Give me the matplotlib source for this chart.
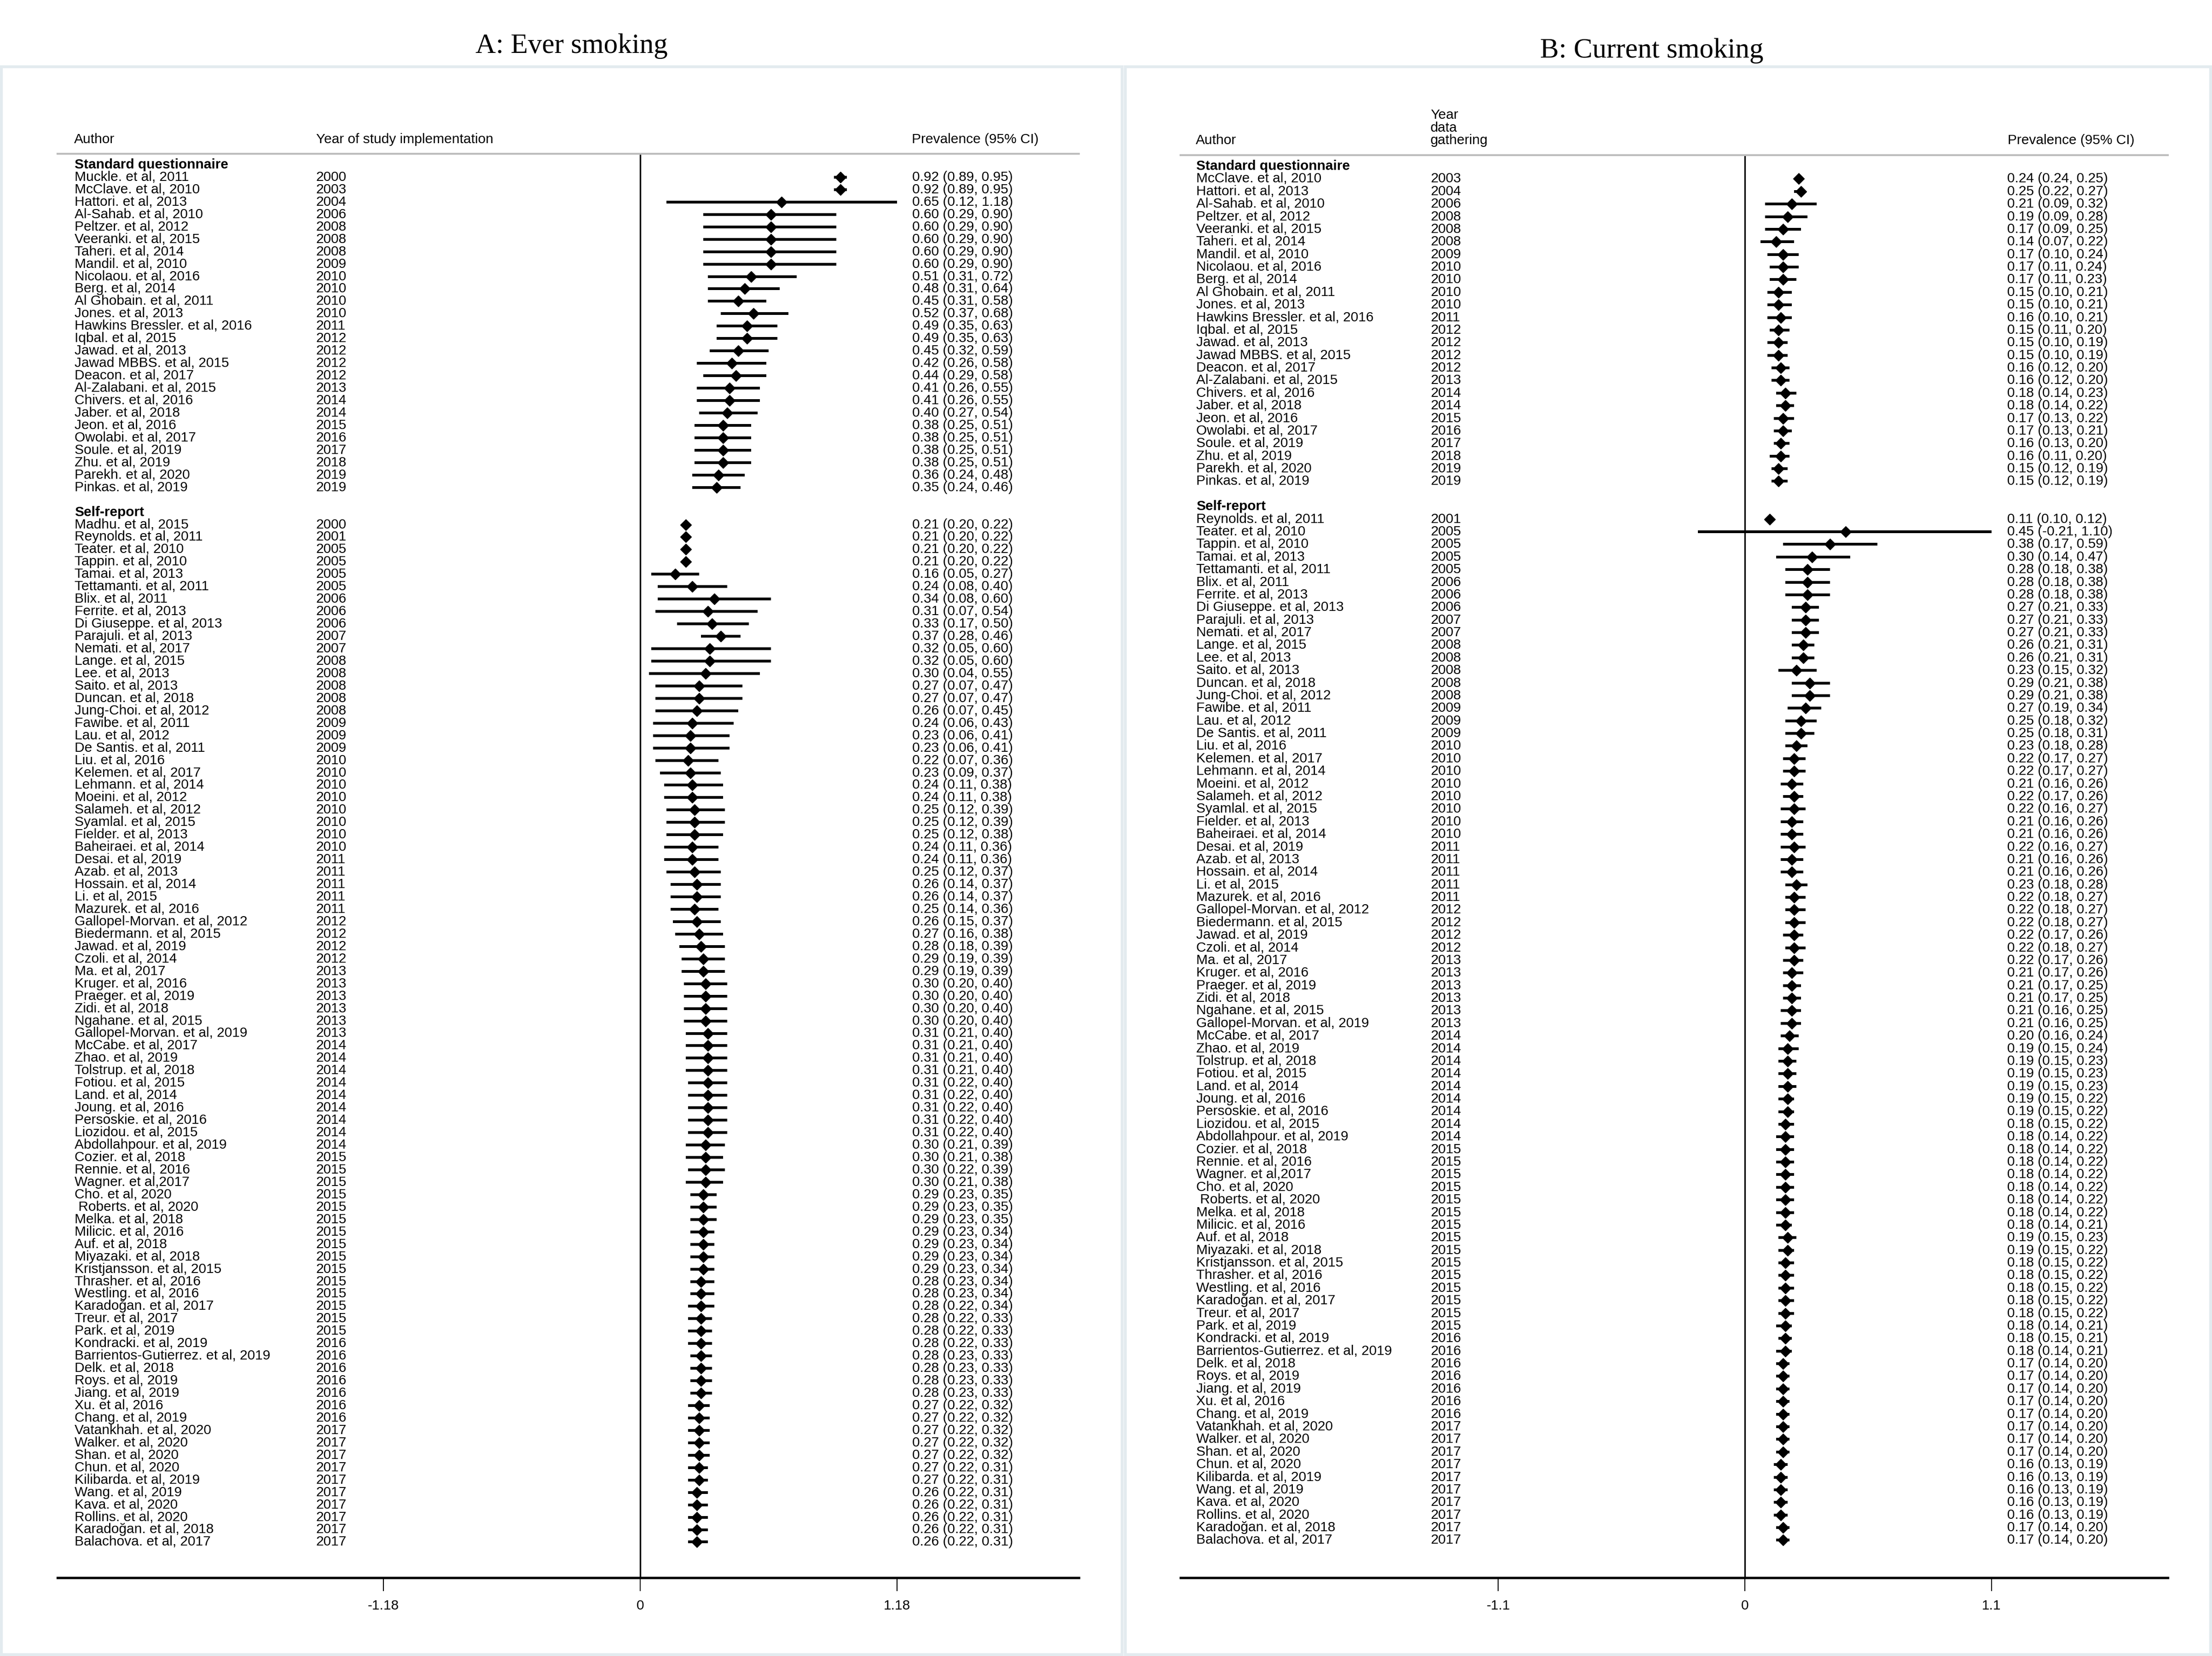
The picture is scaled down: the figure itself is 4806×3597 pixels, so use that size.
import matplotlib
matplotlib.use("Agg")
import matplotlib.pyplot as plt
import matplotlib.transforms as mtransforms
from matplotlib.patches import Rectangle

# ---- data ----
std_authors = [
    "Muckle. et al, 2011", "McClave. et al, 2010", "Hattori. et al, 2013",
    "Al-Sahab. et al, 2010", "Peltzer. et al, 2012", "Veeranki. et al, 2015",
    "Taheri. et al, 2014", "Mandil. et al, 2010", "Nicolaou. et al, 2016",
    "Berg. et al, 2014", "Al Ghobain. et al, 2011", "Jones. et al, 2013",
    "Hawkins Bressler. et al, 2016", "Iqbal. et al, 2015", "Jawad. et al, 2013",
    "Jawad MBBS. et al, 2015", "Deacon. et al, 2017", "Al-Zalabani. et al, 2015",
    "Chivers. et al, 2016", "Jaber. et al, 2018", "Jeon. et al, 2016",
    "Owolabi. et al, 2017", "Soule. et al, 2019", "Zhu. et al, 2019",
    "Parekh. et al, 2020", "Pinkas. et al, 2019",
]
std_years = [2000, 2003, 2004, 2006, 2008, 2008, 2008, 2009, 2010, 2010, 2010,
             2010, 2011, 2012, 2012, 2012, 2012, 2013, 2014, 2014, 2015, 2016,
             2017, 2018, 2019, 2019]

sr_authors = [
    "Madhu. et al, 2015", "Reynolds. et al, 2011", "Teater. et al, 2010",
    "Tappin. et al, 2010", "Tamai. et al, 2013", "Tettamanti. et al, 2011",
    "Blix. et al, 2011", "Ferrite. et al, 2013", "Di Giuseppe. et al, 2013",
    "Parajuli. et al, 2013", "Nemati. et al, 2017", "Lange. et al, 2015",
    "Lee. et al, 2013", "Saito. et al, 2013", "Duncan. et al, 2018",
    "Jung-Choi. et al, 2012", "Fawibe. et al, 2011", "Lau. et al, 2012",
    "De Santis. et al, 2011", "Liu. et al, 2016", "Kelemen. et al, 2017",
    "Lehmann. et al, 2014", "Moeini. et al, 2012", "Salameh. et al, 2012",
    "Syamlal. et al, 2015", "Fielder. et al, 2013", "Baheiraei. et al, 2014",
    "Desai. et al, 2019", "Azab. et al, 2013", "Hossain. et al, 2014",
    "Li. et al, 2015", "Mazurek. et al, 2016", "Gallopel-Morvan. et al, 2012",
    "Biedermann. et al, 2015", "Jawad. et al, 2019", "Czoli. et al, 2014",
    "Ma. et al, 2017", "Kruger. et al, 2016", "Praeger. et al, 2019",
    "Zidi. et al, 2018", "Ngahane. et al, 2015", "Gallopel-Morvan. et al, 2019",
    "McCabe. et al, 2017", "Zhao. et al, 2019", "Tolstrup. et al, 2018",
    "Fotiou. et al, 2015", "Land. et al, 2014", "Joung. et al, 2016",
    "Persoskie. et al, 2016", "Liozidou. et al, 2015", "Abdollahpour. et al, 2019",
    "Cozier. et al, 2018", "Rennie. et al, 2016", "Wagner. et al,2017",
    "Cho. et al, 2020", " Roberts. et al, 2020", "Melka. et al, 2018",
    "Milicic. et al, 2016", "Auf. et al, 2018", "Miyazaki. et al, 2018",
    "Kristjansson. et al, 2015", "Thrasher. et al, 2016", "Westling. et al, 2016",
    "Karadoğan. et al, 2017", "Treur. et al, 2017", "Park. et al, 2019",
    "Kondracki. et al, 2019", "Barrientos-Gutierrez. et al, 2019",
    "Delk. et al, 2018", "Roys. et al, 2019", "Jiang. et al, 2019",
    "Xu. et al, 2016", "Chang. et al, 2019", "Vatankhah. et al, 2020",
    "Walker. et al, 2020", "Shan. et al, 2020", "Chun. et al, 2020",
    "Kilibarda. et al, 2019", "Wang. et al, 2019", "Kava. et al, 2020",
    "Rollins. et al, 2020", "Karadoğan. et al, 2018", "Balachova. et al, 2017",
]
sr_years = [2000, 2001, 2005, 2005, 2005, 2005, 2006, 2006, 2006, 2007, 2007,
            2008, 2008, 2008, 2008, 2008, 2009, 2009, 2009, 2010, 2010, 2010,
            2010, 2010, 2010, 2010, 2010, 2011, 2011, 2011, 2011, 2011, 2012,
            2012, 2012, 2012, 2013, 2013, 2013, 2013, 2013, 2013, 2014, 2014,
            2014, 2014, 2014, 2014, 2014, 2014, 2014, 2015, 2015, 2015, 2015,
            2015, 2015, 2015, 2015, 2015, 2015, 2015, 2015, 2015, 2015, 2015,
            2016, 2016, 2016, 2016, 2016, 2016, 2016, 2017, 2017, 2017, 2017,
            2017, 2017, 2017, 2017, 2017, 2017]

# A: ever smoking
ever_std_est = [0.92, 0.92, 0.65, 0.60, 0.60, 0.60, 0.60, 0.60, 0.51, 0.48, 0.45,
                0.52, 0.49, 0.49, 0.45, 0.42, 0.44, 0.41, 0.41, 0.40, 0.38, 0.38,
                0.38, 0.38, 0.36, 0.35]
ever_std_lo = [0.89, 0.89, 0.12, 0.29, 0.29, 0.29, 0.29, 0.29, 0.31, 0.31, 0.31,
               0.37, 0.35, 0.35, 0.32, 0.26, 0.29, 0.26, 0.26, 0.27, 0.25, 0.25,
               0.25, 0.25, 0.24, 0.24]
ever_std_hi = [0.95, 0.95, 1.18, 0.90, 0.90, 0.90, 0.90, 0.90, 0.72, 0.64, 0.58,
               0.68, 0.63, 0.63, 0.59, 0.58, 0.58, 0.55, 0.55, 0.54, 0.51, 0.51,
               0.51, 0.51, 0.48, 0.46]

ever_sr_est = [0.21, 0.21, 0.21, 0.21, 0.16, 0.24, 0.34, 0.31, 0.33, 0.37, 0.32,
               0.32, 0.30, 0.27, 0.27, 0.26, 0.24, 0.23, 0.23, 0.22, 0.23, 0.24,
               0.24, 0.25, 0.25, 0.25, 0.24, 0.24, 0.25, 0.26, 0.26, 0.25, 0.26,
               0.27, 0.28, 0.29, 0.29, 0.30, 0.30, 0.30, 0.30, 0.31, 0.31, 0.31,
               0.31, 0.31, 0.31, 0.31, 0.31, 0.31, 0.30, 0.30, 0.30, 0.30, 0.29,
               0.29, 0.29, 0.29, 0.29, 0.29, 0.29, 0.28, 0.28, 0.28, 0.28, 0.28,
               0.28, 0.28, 0.28, 0.28, 0.28, 0.27, 0.27, 0.27, 0.27, 0.27, 0.27,
               0.27, 0.26, 0.26, 0.26, 0.26, 0.26]
ever_sr_lo = [0.20, 0.20, 0.20, 0.20, 0.05, 0.08, 0.08, 0.07, 0.17, 0.28, 0.05,
              0.05, 0.04, 0.07, 0.07, 0.07, 0.06, 0.06, 0.06, 0.07, 0.09, 0.11,
              0.11, 0.12, 0.12, 0.12, 0.11, 0.11, 0.12, 0.14, 0.14, 0.14, 0.15,
              0.16, 0.18, 0.19, 0.19, 0.20, 0.20, 0.20, 0.20, 0.21, 0.21, 0.21,
              0.21, 0.22, 0.22, 0.22, 0.22, 0.22, 0.21, 0.21, 0.22, 0.21, 0.23,
              0.23, 0.23, 0.23, 0.23, 0.23, 0.23, 0.23, 0.23, 0.22, 0.22, 0.22,
              0.22, 0.23, 0.23, 0.23, 0.23, 0.22, 0.22, 0.22, 0.22, 0.22, 0.22,
              0.22, 0.22, 0.22, 0.22, 0.22, 0.22]
ever_sr_hi = [0.22, 0.22, 0.22, 0.22, 0.27, 0.40, 0.60, 0.54, 0.50, 0.46, 0.60,
              0.60, 0.55, 0.47, 0.47, 0.45, 0.43, 0.41, 0.41, 0.36, 0.37, 0.38,
              0.38, 0.39, 0.39, 0.38, 0.36, 0.36, 0.37, 0.37, 0.37, 0.36, 0.37,
              0.38, 0.39, 0.39, 0.39, 0.40, 0.40, 0.40, 0.40, 0.40, 0.40, 0.40,
              0.40, 0.40, 0.40, 0.40, 0.40, 0.40, 0.39, 0.38, 0.39, 0.38, 0.35,
              0.35, 0.35, 0.34, 0.34, 0.34, 0.34, 0.34, 0.34, 0.34, 0.33, 0.33,
              0.33, 0.33, 0.33, 0.33, 0.33, 0.32, 0.32, 0.32, 0.32, 0.32, 0.31,
              0.31, 0.31, 0.31, 0.31, 0.31, 0.31]

# B: current smoking (no Muckle, no Madhu)
cur_std_authors = std_authors[1:]
cur_std_years = std_years[1:]
cur_sr_authors = sr_authors[1:]
cur_sr_years = sr_years[1:]

cur_std_est = [0.24, 0.25, 0.21, 0.19, 0.17, 0.14, 0.17, 0.17, 0.17, 0.15, 0.15,
               0.16, 0.15, 0.15, 0.15, 0.16, 0.16, 0.18, 0.18, 0.17, 0.17, 0.16,
               0.16, 0.15, 0.15]
cur_std_lo = [0.24, 0.22, 0.09, 0.09, 0.09, 0.07, 0.10, 0.11, 0.11, 0.10, 0.10,
              0.10, 0.11, 0.10, 0.10, 0.12, 0.12, 0.14, 0.14, 0.13, 0.13, 0.13,
              0.11, 0.12, 0.12]
cur_std_hi = [0.25, 0.27, 0.32, 0.28, 0.25, 0.22, 0.24, 0.24, 0.23, 0.21, 0.21,
              0.21, 0.20, 0.19, 0.19, 0.20, 0.20, 0.23, 0.22, 0.22, 0.21, 0.20,
              0.20, 0.19, 0.19]

cur_sr_est = [0.11, 0.45, 0.38, 0.30, 0.28, 0.28, 0.28, 0.27, 0.27, 0.27, 0.26,
              0.26, 0.23, 0.29, 0.29, 0.27, 0.25, 0.25, 0.23, 0.22, 0.22, 0.21,
              0.22, 0.22, 0.21, 0.21, 0.22, 0.21, 0.21, 0.23, 0.22, 0.22, 0.22,
              0.22, 0.22, 0.22, 0.21, 0.21, 0.21, 0.21, 0.21, 0.20, 0.19, 0.19,
              0.19, 0.19, 0.19, 0.19, 0.18, 0.18, 0.18, 0.18, 0.18, 0.18, 0.18,
              0.18, 0.18, 0.19, 0.19, 0.18, 0.18, 0.18, 0.18, 0.18, 0.18, 0.18,
              0.18, 0.17, 0.17, 0.17, 0.17, 0.17, 0.17, 0.17, 0.17, 0.16, 0.16,
              0.16, 0.16, 0.16, 0.17, 0.17]
cur_sr_lo = [0.10, -0.21, 0.17, 0.14, 0.18, 0.18, 0.18, 0.21, 0.21, 0.21, 0.21,
             0.21, 0.15, 0.21, 0.21, 0.19, 0.18, 0.18, 0.18, 0.17, 0.17, 0.16,
             0.17, 0.16, 0.16, 0.16, 0.16, 0.16, 0.16, 0.18, 0.18, 0.18, 0.18,
             0.17, 0.18, 0.17, 0.17, 0.17, 0.17, 0.16, 0.16, 0.16, 0.15, 0.15,
             0.15, 0.15, 0.15, 0.15, 0.15, 0.14, 0.14, 0.14, 0.14, 0.14, 0.14,
             0.14, 0.14, 0.15, 0.15, 0.15, 0.15, 0.15, 0.15, 0.15, 0.14, 0.15,
             0.14, 0.14, 0.14, 0.14, 0.14, 0.14, 0.14, 0.14, 0.14, 0.13, 0.13,
             0.13, 0.13, 0.13, 0.14, 0.14]
cur_sr_hi = [0.12, 1.10, 0.59, 0.47, 0.38, 0.38, 0.38, 0.33, 0.33, 0.33, 0.31,
             0.31, 0.32, 0.38, 0.38, 0.34, 0.32, 0.31, 0.28, 0.27, 0.27, 0.26,
             0.26, 0.27, 0.26, 0.26, 0.27, 0.26, 0.26, 0.28, 0.27, 0.27, 0.27,
             0.26, 0.27, 0.26, 0.26, 0.25, 0.25, 0.25, 0.25, 0.24, 0.24, 0.23,
             0.23, 0.23, 0.22, 0.22, 0.22, 0.22, 0.22, 0.22, 0.22, 0.22, 0.22,
             0.22, 0.21, 0.23, 0.22, 0.22, 0.22, 0.22, 0.22, 0.22, 0.21, 0.21,
             0.21, 0.20, 0.20, 0.20, 0.20, 0.20, 0.20, 0.20, 0.20, 0.19, 0.19,
             0.19, 0.19, 0.19, 0.20, 0.20]

ever_ticks = [-1.18, 0, 1.18]
ever_ticklabels = ["-1.18", "0", "1.18"]
cur_ticks = [-1.1, 0, 1.1]
cur_ticklabels = ["-1.1", "0", "1.1"]

# ---- layout (pixel coords of the 4806x3597 canvas) ----
W, H = 4806, 3597
SANS = "Liberation Sans"
SERIF = "Liberation Serif"
FS = 21.5


def fx(px):
    return px / W


def fy(py):
    return 1 - py / H


fig = plt.figure(figsize=(W / 100, H / 100), dpi=100)
fig.patch.set_facecolor("white")

# panel frames
for x0, x1 in [(3, 2438), (2445, 4803)]:
    fig.add_artist(Rectangle((fx(x0), fy(3594)), fx(x1) - fx(x0), fy(145) - fy(3594),
                             transform=fig.transFigure, facecolor="white",
                             edgecolor="#e3ebef", linewidth=4.5, zorder=0))


def forest(p):
    ax = fig.add_axes([fx(p["ax_l"]), fy(p["ax_b"]), fx(p["ax_r"]) - fx(p["ax_l"]),
                       fy(p["ax_t"]) - fy(p["ax_b"])])
    ax.set_facecolor("none")
    pitch = p["pitch"]
    y0 = p["row0"]
    ax.set_xlim((p["ax_l"] - p["zero"]) / p["scale"], (p["ax_r"] - p["zero"]) / p["scale"])
    ax.set_ylim((p["ax_b"] - y0) / pitch, (p["ax_t"] - y0) / pitch)

    tr = mtransforms.blended_transform_factory(fig.transFigure, ax.transData)

    n_std = len(p["std_authors"])
    groups = [
        ("Standard questionnaire", 0, p["std_authors"], p["std_years"],
         p["std_est"], p["std_lo"], p["std_hi"]),
        ("Self-report", n_std + 2, p["sr_authors"], p["sr_years"],
         p["sr_est"], p["sr_lo"], p["sr_hi"]),
    ]
    for title, start, authors, years, est, lo, hi in groups:
        ax.text(fx(p["col_author"]), start, title, transform=tr, fontsize=FS,
                fontweight="bold", family=SANS, va="center", ha="left")
        rows = [start + 1 + i for i in range(len(authors))]
        ax.hlines(rows, lo, hi, color="black", linewidth=4.3, zorder=3)
        ax.plot(est, rows, linestyle="none", marker="D", markersize=12.5,
                color="black", zorder=4)
        for r, a, yr, e, l, h in zip(rows, authors, years, est, lo, hi):
            ax.text(fx(p["col_author"]), r, a, transform=tr, fontsize=FS,
                    family=SANS, va="center", ha="left")
            ax.text(fx(p["col_year"]), r, str(yr), transform=tr, fontsize=FS,
                    family=SANS, va="center", ha="left")
            ax.text(fx(p["col_est"]), r, f"{e:.2f} ({l:.2f}, {h:.2f})",
                    transform=tr, fontsize=FS, family=SANS, va="center", ha="left")

    ax.axvline(0, color="black", linewidth=2.4, zorder=2)

    for s in ["left", "right"]:
        ax.spines[s].set_visible(False)
    ax.spines["top"].set_color("#bdbdbd")
    ax.spines["top"].set_linewidth(3.0)
    ax.spines["bottom"].set_color("black")
    ax.spines["bottom"].set_linewidth(3.8)
    ax.set_yticks([])
    ax.set_xticks(p["ticks"])
    ax.set_xticklabels(p["ticklabels"], fontsize=FS, family=SANS)
    ax.tick_params(axis="x", direction="out", length=21, width=1.5, pad=13)

    # column headers
    for txt, x, y in p["headers"]:
        fig.text(fx(x), fy(y), txt, fontsize=FS, family=SANS, va="center", ha="left")
    fig.text(fx(p["title_x"]), fy(p["title_y"]), p["title"], fontsize=44,
             family=SERIF, ha="center", va="center")
    return ax


panel_a = dict(
    title="A: Ever smoking", title_x=1242, title_y=100,
    ax_l=125, ax_r=2344, ax_t=334, ax_b=3427, zero=1391, scale=472.9,
    row0=358, pitch=26.95, col_author=162, col_year=687, col_est=1982,
    headers=[("Author", 161, 303), ("Year of study implementation", 687, 303),
             ("Prevalence (95% CI)", 1981, 303)],
    std_authors=std_authors, std_years=std_years,
    std_est=ever_std_est, std_lo=ever_std_lo, std_hi=ever_std_hi,
    sr_authors=sr_authors, sr_years=sr_years,
    sr_est=ever_sr_est, sr_lo=ever_sr_lo, sr_hi=ever_sr_hi,
    ticks=ever_ticks, ticklabels=ever_ticklabels,
)

panel_b = dict(
    title="B: Current smoking", title_x=3589, title_y=110,
    ax_l=2565, ax_r=4710, ax_t=337, ax_b=3427, zero=3791, scale=487.3,
    row0=361, pitch=27.38, col_author=2599, col_year=3108, col_est=4361,
    headers=[("Author", 2598, 305), ("Year", 3108, 250), ("data", 3108, 278),
             ("gathering", 3108, 305), ("Prevalence (95% CI)", 4362, 305)],
    std_authors=cur_std_authors, std_years=cur_std_years,
    std_est=cur_std_est, std_lo=cur_std_lo, std_hi=cur_std_hi,
    sr_authors=cur_sr_authors, sr_years=cur_sr_years,
    sr_est=cur_sr_est, sr_lo=cur_sr_lo, sr_hi=cur_sr_hi,
    ticks=cur_ticks, ticklabels=cur_ticklabels,
)

forest(panel_a)
forest(panel_b)

fig.savefig("out.png", dpi=100, facecolor="white")
